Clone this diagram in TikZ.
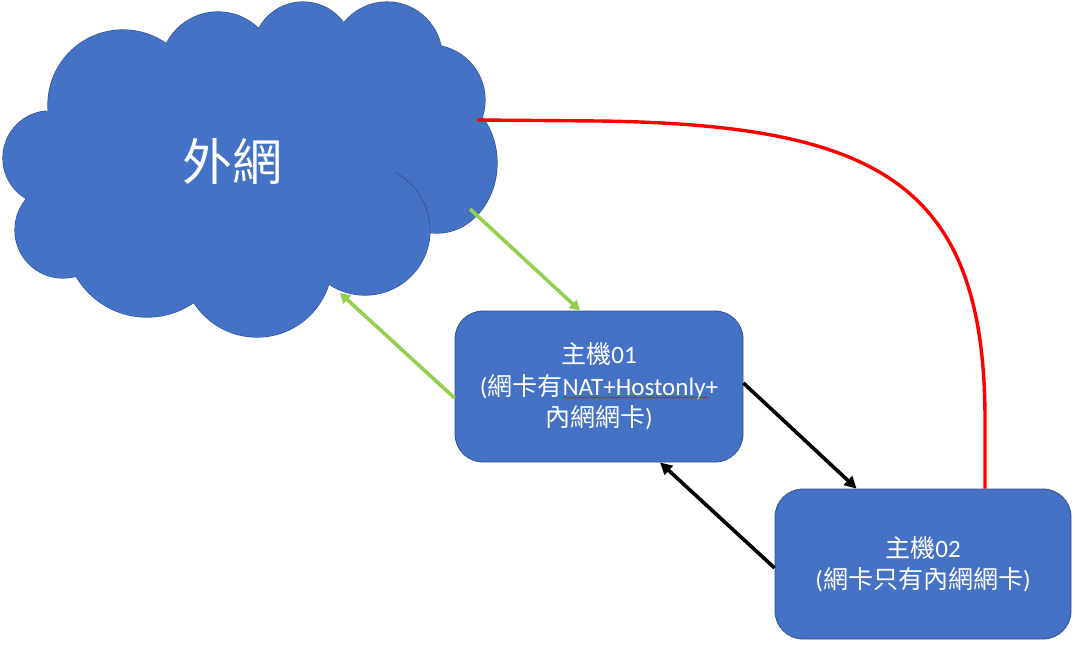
\documentclass[tikz,border=0pt]{standalone}
\usepackage{fontspec}
\setmainfont{Carlito}
\newfontfamily\cjk{Noto Sans CJK TC}
\usetikzlibrary{arrows.meta,calc,decorations.pathmorphing}
\definecolor{boxblue}{HTML}{4472C4}
\definecolor{boxedge}{HTML}{2F528F}
\definecolor{lgreen}{HTML}{92D050}
\definecolor{lred}{HTML}{FF0000}
\tikzset{
  hostbox/.style={draw=boxedge, line width=0.8pt, fill=boxblue, rounded corners=28pt,
    text=white, align=center, inner sep=0pt, font=\fontsize{25}{31.5}\selectfont},
  greenarrow/.style={draw=lgreen, line width=3.6pt, -{Triangle[length=10pt,width=11pt]}},
  blackarrow/.style={draw=black, line width=3.6pt, -{Triangle[length=12pt,width=12pt]}},
  redline/.style={draw=lred, line width=3.4pt},
}
\newcommand{\cloudpuffs}[1]{%
  \path[#1] (50,158) circle[radius=47pt];
  \path[#1] (63,230) circle[radius=48pt];
  \path[#1] (147,235) circle[radius=82pt];
  \path[#1] (257,262) circle[radius=75pt];
  \path[#1] (365,230) circle[radius=65pt];
  \path[#1] (437,163) ellipse[x radius=60pt, y radius=70pt];
  \path[#1] (430,100) circle[radius=55pt];
  \path[#1] (387,57) circle[radius=55pt];
  \path[#1] (303,52) circle[radius=50pt];
  \path[#1] (218,70) circle[radius=58pt];
  \path[#1] (123,105) circle[radius=75pt];
  \path[#1] (250,170) ellipse[x radius=190pt, y radius=110pt];
}
\begin{document}
\begin{tikzpicture}[x=1pt,y=-1pt]
\useasboundingbox (0,0) rectangle (1075,646);
% cloud
\cloudpuffs{draw=boxedge, line width=1.2pt}
\cloudpuffs{fill=boxblue}
\draw[boxedge, line width=0.6pt] (365,230) ++(62:65pt) arc[start angle=62, end angle=0, radius=65pt];
\node[text=white, font=\cjk\fontsize{50}{50}\selectfont] (net) at (232,161) {外網};
\coordinate (cRed) at (477,120);
\coordinate (cOut) at (470,209);
\coordinate (cIn) at (340,293);
% hosts
\node[hostbox, minimum width=288pt, minimum height=151pt] (h1) at (599,386.5)
  {{\cjk 主機}01\\({\cjk 網卡有}NAT+Hostonly+\\{\cjk 內網網卡})};
\node[hostbox, minimum width=296pt, minimum height=150pt] (h2) at (923,564)
  {{\cjk 主機}02\\({\cjk 網卡只有內網網卡})};
% spell-check underline
\draw[lred, line width=0.5pt, decorate, decoration={snake, amplitude=0.7pt, segment length=3pt}]
  ($(h1.center)+(-36,11)$) -- ($(h1.center)+(109,11)$);
% connectors
\draw[greenarrow] (cOut) -- ($(h1.north)+(-19,0)$);
\draw[greenarrow] ($(h1.west)+(0,11.5)$) -- (cIn);
\draw[blackarrow] ($(h1.east)+(0,-3.5)$) -- ($(h2.north west)+(82,0)$);
\draw[blackarrow] ($(h2.west)+(0,4)$) -- ($(h1.south)+(61,0)$);
\draw[redline] (cRed) -- (600,121) .. controls (880,125) and (985,185) .. (985,420) -- ($(h2.north)+(62,0)$);
\end{tikzpicture}
\end{document}
